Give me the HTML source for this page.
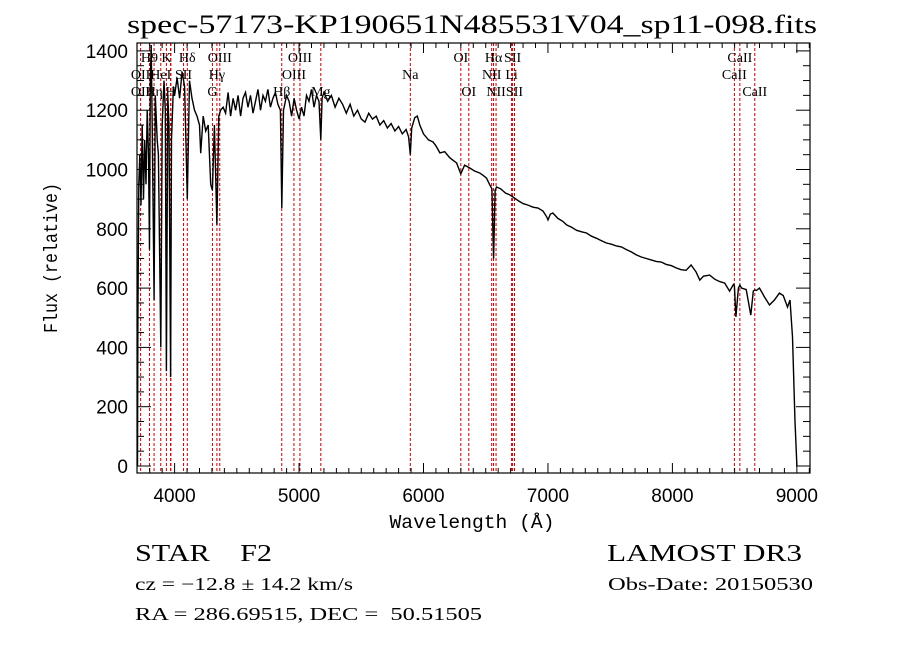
<!DOCTYPE html>
<html><head><meta charset="utf-8"><style>
html,body{margin:0;padding:0;background:#fff;}
svg{display:block;}
text{font-family:"Liberation Serif",serif;fill:#000;white-space:pre;}
</style></head><body>
<svg id="chart" width="900" height="649" viewBox="0 0 900 649" xmlns="http://www.w3.org/2000/svg">
<rect width="900" height="649" fill="#fff"/>
<text x="127" y="33" font-size="26" textLength="690" lengthAdjust="spacingAndGlyphs">spec-57173-KP190651N485531V04_sp11-098.fits</text>
<g id="lines"></g>
<g id="labels"></g>
<path id="spec" fill="none" stroke="#000" stroke-width="1.4"/>
<g id="axes"></g>
<text transform="translate(57,258) rotate(-90)" text-anchor="middle" font-size="19" style="font-family:'Liberation Mono',monospace" textLength="150" lengthAdjust="spacingAndGlyphs">Flux (relative)</text>
<text x="472" y="528" text-anchor="middle" font-size="19" style="font-family:'Liberation Mono',monospace" textLength="165" lengthAdjust="spacingAndGlyphs">Wavelength (Å)</text>
<text x="135" y="561" font-size="24" xml:space="preserve" textLength="137" lengthAdjust="spacingAndGlyphs">STAR    F2</text>
<text x="607" y="561" font-size="24" textLength="195" lengthAdjust="spacingAndGlyphs">LAMOST DR3</text>
<text x="135" y="590" font-size="18" textLength="218" lengthAdjust="spacingAndGlyphs">cz = −12.8 ± 14.2 km/s</text>
<text x="608" y="590" font-size="18" textLength="205" lengthAdjust="spacingAndGlyphs">Obs-Date: 20150530</text>
<text x="135" y="620" font-size="18" xml:space="preserve" textLength="347" lengthAdjust="spacingAndGlyphs">RA = 286.69515, DEC =  50.51505</text>
</svg>
<script>
const wavelengths=[3702,3705,3712,3720,3730,3740,3750,3760,3770,3780,3790,3798,3805,3812,3820,3835,3845,3860,3870,3889,3900,3915,3925,3934,3945,3955,3968,3975,3990,4000,4020,4040,4060,4080,4102,4120,4140,4160,4180,4200,4210,4230,4250,4270,4290,4304,4320,4340,4355,4370,4390,4410,4430,4450,4470,4490,4510,4530,4550,4570,4590,4610,4630,4650,4670,4690,4710,4730,4750,4770,4790,4810,4830,4850,4861,4875,4900,4920,4940,4960,4980,5000,5020,5040,5060,5080,5100,5120,5140,5160,5175,5185,5200,5230,5260,5290,5320,5350,5380,5410,5440,5470,5500,5530,5560,5590,5620,5650,5680,5710,5740,5770,5800,5830,5860,5880,5894,5905,5930,5950,5970,6000,6040,6076,6100,6132,6170,6210,6240,6266,6300,6330,6372,6410,6453,6480,6506,6530,6550,6563,6575,6587,6620,6660,6690,6720,6760,6800,6840,6880,6920,6960,6990,7000,7020,7040,7080,7120,7150,7190,7230,7270,7310,7350,7390,7430,7470,7510,7550,7590,7630,7670,7710,7750,7790,7830,7870,7910,7950,7990,8030,8070,8110,8150,8190,8220,8250,8300,8340,8380,8420,8460,8490,8498,8510,8530,8542,8555,8593,8630,8650,8662,8675,8700,8740,8780,8820,8860,8890,8925,8945,8965,8985,9000,9003,9008];
const fluxValues=[0,500,950,1050,880,1150,900,1100,950,1200,1050,730,1300,1420,1150,560,1250,1100,1050,400,1150,1300,1200,320,1250,1150,300,1100,1280,1250,1310,1240,1330,1280,900,1300,1240,1200,1180,1150,1055,1180,1130,1150,950,930,1150,813,1180,1200,1210,1190,1260,1180,1240,1200,1250,1180,1240,1260,1210,1250,1190,1230,1270,1200,1250,1230,1270,1210,1240,1260,1220,1200,870,1200,1250,1230,1180,1240,1200,1170,1210,1180,1250,1230,1270,1210,1250,1230,1100,1240,1260,1230,1250,1210,1240,1220,1190,1220,1180,1200,1170,1160,1190,1170,1180,1150,1165,1140,1155,1130,1145,1120,1135,1110,1050,1140,1175,1180,1150,1120,1100,1093,1080,1056,1060,1040,1030,1022,985,1015,1005,995,988,980,971,950,935,700,930,941,935,920,915,907,895,885,880,873,870,860,840,830,850,853,835,825,813,805,795,790,786,775,768,760,752,748,742,739,730,722,712,705,700,695,690,688,680,676,668,662,660,678,655,627,640,644,630,622,617,590,612,608,503,600,610,600,595,509,590,594,592,600,570,543,560,583,575,536,560,435,150,0];
const lineWaves=[3727,3798,3835,3889,3934,3968,3970,4072,4102,4304,4340,4363,4861,4959,5007,5175,5894,6300,6364,6548,6563,6583,6708,6716,6731,8498,8542,8662];
const labelTexts=['H9','K','Hδ','OIII','OIII','OI','Hα','SII','CaII','OII','HeI','SII','Hγ','OIII','Na','NII','Li','CaII','OII','Hη','H','G','Hβ','Mg','OI','NII','SII','CaII'];
const labelWaves=[3798,3934,4102,4363,5007,6300,6563,6716,8542,3727,3889,4072,4340,4959,5894,6548,6708,8498,3727,3835,3968,4304,4861,5175,6364,6583,6731,8662];
const labelRows=[0,0,0,0,0,0,0,0,0,1,1,1,1,1,1,1,1,1,2,2,2,2,2,2,2,2,2,2];
const xTicks=[4000,5000,6000,7000,8000,9000];
const yTicks=[0,200,400,600,800,1000,1200,1400];

const L=137,R=810,T=43,B=473;
function xs(w){return 174.6+(w-4000)*0.12445;}
function ys(f){return 466-f*0.2965;}
const NS='http://www.w3.org/2000/svg';
function mk(tag,attrs,parent){const e=document.createElementNS(NS,tag);for(const k in attrs)e.setAttribute(k,attrs[k]);parent.appendChild(e);return e;}

const gl=document.getElementById('lines');
lineWaves.forEach(w=>{
  const l=mk('line',{x1:xs(w),x2:xs(w),y1:T,y2:B,stroke:'#c00000','stroke-width':1,'stroke-dasharray':'3,2'},gl);
  
  
});
const glab=document.getElementById('labels');
labelTexts.forEach((t,i)=>{
  const e=mk('text',{x:xs(labelWaves[i]),y:62+labelRows[i]*17,'text-anchor':'middle','font-size':14},glab);
  e.textContent=t;
  
  
});

let d='';
wavelengths.forEach((w,i)=>{d+=(i?'L':'M')+xs(w).toFixed(1)+','+ys(fluxValues[i]).toFixed(1);});
document.getElementById('spec').setAttribute('d',d);

const ga=document.getElementById('axes');
const fr=mk('rect',{x:L,y:T,width:R-L,height:B-T,fill:'none',stroke:'#000','stroke-width':1.2},ga);


for(let w=3800;w<=9100;w+=100){
  const major=w%1000===0, len=major?10:5;
  mk('line',{x1:xs(w),x2:xs(w),y1:B,y2:B-len,stroke:'#000'},ga);
  mk('line',{x1:xs(w),x2:xs(w),y1:T,y2:T+len,stroke:'#000'},ga);
}
for(let f=0;f<=1400;f+=50){
  const major=f%200===0, len=major?14:7;
  mk('line',{x1:L,x2:L+len,y1:ys(f),y2:ys(f),stroke:'#000'},ga);
  mk('line',{x1:R,x2:R-len,y1:ys(f),y2:ys(f),stroke:'#000'},ga);
}
xTicks.forEach(w=>{
  const t=mk('text',{x:xs(w),y:502,'text-anchor':'middle','font-size':19,style:"font-family:'Liberation Sans',sans-serif"},ga);
  t.textContent=w;
  
  
});
yTicks.forEach(f=>{
  const t=mk('text',{x:128,y:ys(f)+7,'text-anchor':'end','font-size':19,style:"font-family:'Liberation Sans',sans-serif"},ga);
  t.textContent=f;
  
  
});
</script>
</body></html>
